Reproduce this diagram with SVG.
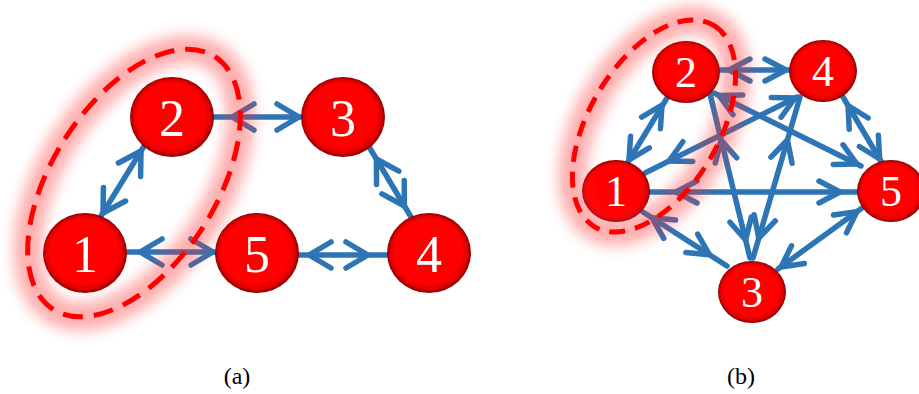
<svg xmlns="http://www.w3.org/2000/svg" width="919" height="394" viewBox="0 0 919 394">
<style>
.e{stroke:#2E75B6;stroke-width:5.5;fill:none;stroke-linecap:round;stroke-linejoin:round}
.n{fill:url(#ng)}
.la{font-family:"Liberation Serif","DejaVu Serif",serif;font-size:52px;fill:#fff;text-anchor:middle}
.lb{font-family:"Liberation Serif","DejaVu Serif",serif;font-size:44px;fill:#fff;text-anchor:middle}
.cap{font-family:"Liberation Serif","DejaVu Serif",serif;font-size:24px;fill:#000;text-anchor:middle}
.dash{fill:none;stroke:#ff0000;stroke-width:5}
.glow{fill:none;stroke:#ff2a2a;stroke-width:28;opacity:0.38;filter:url(#blur)}
</style>
<defs>
<radialGradient id="ng" cx="50%" cy="50%" r="50%" fx="45%" fy="40%">
<stop offset="0" stop-color="#ff0000"/>
<stop offset="0.8" stop-color="#ff0000"/>
<stop offset="0.93" stop-color="#d80000"/>
<stop offset="1" stop-color="#800000"/>
</radialGradient>
<filter id="blur" x="-30%" y="-30%" width="160%" height="160%"><feGaussianBlur stdDeviation="7"/></filter>
<polyline id="ca" class="e" points="-22,-13 0,0 -22,13"/>
<polyline id="cb" class="e" points="-21,-11 0,0 -21,11"/>
</defs>
<rect width="919" height="394" fill="#fff"/>

<g id="connectors">
<!-- (a) -->
<path class="e" d="M213,117 H301"/>
<use href="#ca" transform="translate(232,117) rotate(180)"/>
<use href="#ca" transform="translate(299,117)"/>
<path class="e" d="M127,252 H215"/>
<use href="#ca" transform="translate(140,252) rotate(180)"/>
<use href="#ca" transform="translate(213,252)"/>
<path class="e" d="M299,255 H387"/>
<use href="#ca" transform="translate(309,255) rotate(180)"/>
<use href="#ca" transform="translate(368,255)"/>
<path class="e" d="M101,216 L146,143"/>
<use href="#ca" transform="translate(141,151) rotate(-58.5)"/>
<use href="#ca" transform="translate(103,213) rotate(121.5)"/>
<path class="e" d="M368,145 L414,222"/>
<use href="#ca" transform="translate(376.4,159) rotate(239.1)"/>
<use href="#ca" transform="translate(404.4,206) rotate(59.1)"/>
<!-- (b) -->
<path class="e" d="M719,70 H790"/>
<use href="#cb" transform="translate(729,70) rotate(180)"/>
<use href="#cb" transform="translate(786,70)"/>
<path class="e" d="M667,98 L628,162"/>
<use href="#cb" transform="translate(662,105) rotate(-58.6)"/>
<use href="#cb" transform="translate(629,160) rotate(121.4)"/>
<path class="e" d="M645,173 L797,97"/>
<use href="#cb" transform="translate(669,161) rotate(153.4)"/>
<use href="#cb" transform="translate(795,98) rotate(-26.6)"/>
<path class="e" d="M714,93 L861,166"/>
<use href="#cb" transform="translate(719,95.5) rotate(206.4)"/>
<use href="#cb" transform="translate(857,164) rotate(26.4)"/>
<path class="e" d="M710,94 L750,258"/>
<use href="#cb" transform="translate(721,140) rotate(-103.7)"/>
<use href="#cb" transform="translate(745.6,240) rotate(76.3)"/>
<path class="e" d="M800,97 L753,258"/>
<use href="#cb" transform="translate(787.4,140) rotate(-73.7)"/>
<use href="#cb" transform="translate(758.8,238) rotate(106.3)"/>
<path class="e" d="M843,97 L882,163"/>
<use href="#cb" transform="translate(848,105.5) rotate(239.4)"/>
<use href="#cb" transform="translate(879.6,159) rotate(59.4)"/>
<path class="e" d="M650,192 H859"/>
<use href="#cb" transform="translate(676,192) rotate(180)"/>
<use href="#cb" transform="translate(840,192)"/>
<path class="e" d="M862,208 L778,269"/>
<use href="#cb" transform="translate(857,211.6) rotate(-36)"/>
<use href="#cb" transform="translate(781,267) rotate(144)"/>
<path class="e" d="M643,212 L727,266"/>
<use href="#cb" transform="translate(652,217.8) rotate(212.7)"/>
<use href="#cb" transform="translate(709.4,254.7) rotate(32.7)"/>
</g>

<g id="a-node-1"><ellipse class="n" cx="85" cy="253" rx="42" ry="40"/><text class="la" x="85" y="272">1</text></g>
<g id="a-node-2"><ellipse class="n" cx="172" cy="117" rx="42" ry="40"/><text class="la" x="172" y="136">2</text></g>
<g id="a-node-3"><ellipse class="n" cx="343" cy="117" rx="42" ry="40"/><text class="la" x="343" y="136">3</text></g>
<g id="a-node-4"><ellipse class="n" cx="429" cy="253" rx="42" ry="40"/><text class="la" x="429" y="272">4</text></g>
<g id="a-node-5"><ellipse class="n" cx="257" cy="253" rx="42" ry="40"/><text class="la" x="257" y="272">5</text></g>

<g id="b-node-1"><ellipse class="n" cx="616" cy="191" rx="34" ry="31"/><text class="lb" x="616" y="206">1</text></g>
<g id="b-node-2"><ellipse class="n" cx="686" cy="72" rx="34" ry="31"/><text class="lb" x="686" y="87">2</text></g>
<g id="b-node-3"><ellipse class="n" cx="752" cy="292" rx="34" ry="31"/><text class="lb" x="752" y="307">3</text></g>
<g id="b-node-4"><ellipse class="n" cx="823" cy="71" rx="34" ry="31"/><text class="lb" x="823" y="86">4</text></g>
<g id="b-node-5"><ellipse class="n" cx="891" cy="191" rx="34" ry="31"/><text class="lb" x="891" y="206">5</text></g>

<g id="highlight-a">
<ellipse class="glow" cx="134" cy="183" rx="150" ry="82" transform="rotate(-57.4 134 183)"/>
<ellipse class="dash" cx="134" cy="183" rx="150" ry="82" transform="rotate(-57.4 134 183)" stroke-dasharray="20 11"/>
</g>
<g id="highlight-b">
<ellipse class="glow" cx="654" cy="126" rx="117" ry="65" transform="rotate(-59.5 654 126)"/>
<ellipse class="dash" cx="654" cy="126" rx="117" ry="65" transform="rotate(-59.5 654 126)" stroke-dasharray="16 10"/>
</g>

<text class="cap" x="237" y="384">(a)</text>
<text class="cap" x="741" y="384">(b)</text>
</svg>
